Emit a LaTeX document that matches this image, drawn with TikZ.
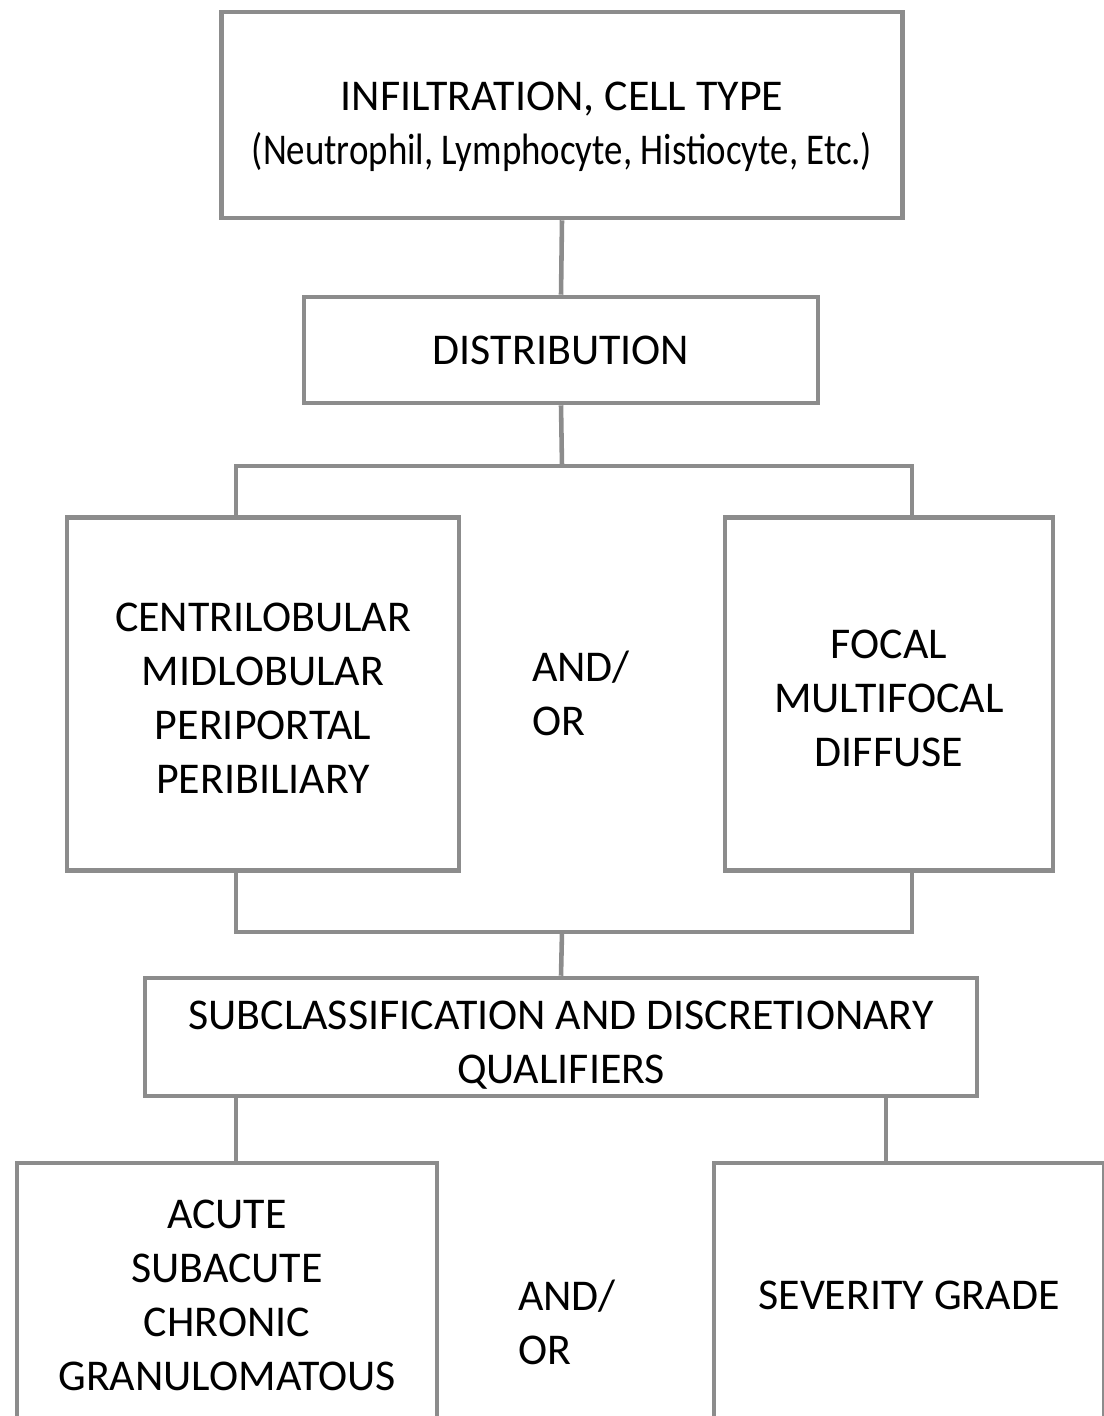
\documentclass[tikz,border=0pt]{standalone}
\usepackage{fontspec}
\setmainfont{Carlito}
\definecolor{linegray}{HTML}{8C8C8C}

\begin{document}
\begin{tikzpicture}[x=0.02cm,y=-0.02cm,
  box/.style={draw=linegray,line width=2.6pt,fill=white,align=center,inner sep=0pt,
    font=\fontsize{25pt}{30.7pt}\selectfont},
  lbl/.style={align=left,inner sep=0pt,font=\fontsize{25pt}{30.7pt}\selectfont},
  link/.style={draw=linegray,line width=2.6pt}]
\useasboundingbox (0,0) rectangle (1104,1416); % --- page size of the reference
%---- boxes
\node[box,minimum width=13.62cm,minimum height=4.12cm] (infil) at (562,115) {};
\node[lbl,align=center] (infiltxt) at (562,127)
  {INFILTRATION, CELL TYPE\\\scalebox{0.84}[1]{(Neutrophil, Lymphocyte, Histiocyte, Etc.)}};
\node[box,minimum width=10.28cm,minimum height=2.12cm] (distr) at (561,350) {DISTRIBUTION};
\node[box,minimum width=7.84cm,minimum height=7.06cm] (zone) at (263,694) {};
\node[lbl,align=center] (zonetxt) at (263,698)
  {CENTRILOBULAR\\MIDLOBULAR\\PERIPORTAL\\PERIBILIARY};
\node[lbl] (andor1) at (581,693) {AND/\\OR};
\node[box,minimum width=6.56cm,minimum height=7.06cm] (extent) at (889,694) {};
\node[lbl,align=center] (extenttxt) at (889,698) {FOCAL\\MULTIFOCAL\\DIFFUSE};
\node[box,minimum width=16.64cm,minimum height=2.36cm] (subcl) at (561,1037) {};
\node[lbl,align=center] (subcltxt) at (561,1045) {SUBCLASSIFICATION AND DISCRETIONARY\\QUALIFIERS};
\node[box,minimum width=8.40cm,minimum height=5.28cm] (chron) at (227,1295)
  {ACUTE\\SUBACUTE\\CHRONIC\\GRANULOMATOUS};
\node[lbl] (andor2) at (567,1322) {AND/\\OR};
\node[box,minimum width=7.80cm,minimum height=5.28cm] (grade) at (909,1295) {SEVERITY GRADE};
%---- junction points
\coordinate (split) at (562,466);
\coordinate (splitL) at (236,466);
\coordinate (splitR) at (912,466);
\coordinate (joinL) at (236,932);
\coordinate (joinR) at (912,932);
\coordinate (join) at (562,932);
\coordinate (subL) at (236,1096);
\coordinate (subR) at (886,1096);
%---- connectors
\path[link] (infil.south) -- (distr.north);
\path[link] (distr.south) -- (split);
\path[link] (zone.north -| splitL) -- (splitL) -- (splitR) -- (extent.north -| splitR);
\path[link] (zone.south -| joinL) -- (joinL) -- (joinR) -- (extent.south -| joinR);
\path[link] (join) -- (subcl.north);
\path[link] (subL) -- (chron.north -| subL);
\path[link] (subR) -- (grade.north -| subR);
\end{tikzpicture}
\end{document}
